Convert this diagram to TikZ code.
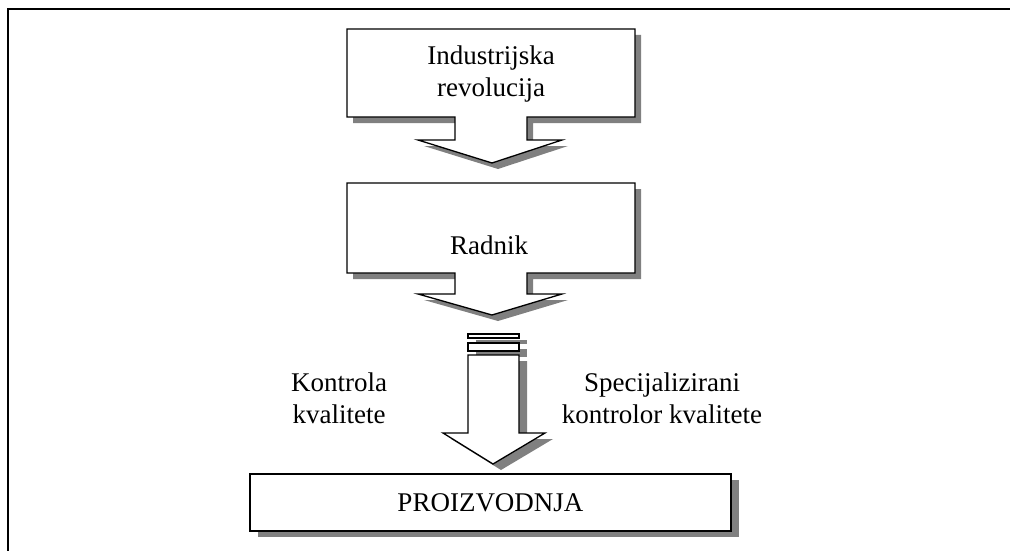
\documentclass[tikz,border=0pt]{standalone}
\usepackage{fontspec}
\setmainfont{Liberation Serif}
\usepackage{tikz}
\definecolor{shadowgray}{gray}{0.5}
\tikzstyle{callout}=[draw=black,line width=1.3pt,fill=white,line join=miter,preaction={fill=shadowgray,transform canvas={shift={(6,6)}}}]
\tikzstyle{bigshadow}=[draw=black,line width=1.3pt,fill=white,preaction={fill=shadowgray,transform canvas={shift={(8,6)}}}]
\tikzstyle{lbl}=[align=center,inner sep=0pt,font=\fontsize{27}{32}\selectfont]

\begin{document}
\begin{tikzpicture}[x=1pt,y=-1pt]
				\useasboundingbox (0,0) rectangle (1010,551);
				
				% frame
				\draw[line width=2pt] (8,551) -- (8,9) -- (1010,9);
				
				\begin{scope}
				% first callout
				\draw[callout] (347,29) -- (635,29) -- (635,117) -- (527,117) -- (527,140) -- (562,140) -- (492,163) -- (418,140) -- (455,140) -- (455,117) -- (347,117) -- cycle;
				\node [lbl] (rev) at (491,74) {Industrijska\\revolucija};
				
				% second callout
				\draw[callout] (347,183) -- (635,183) -- (635,273) -- (527,273) -- (527,294) -- (562,294) -- (492,315) -- (418,294) -- (455,294) -- (455,273) -- (347,273) -- cycle;
				\node [lbl] (rad) at (489,245) {Radnik};
				\end{scope}
				
				\begin{scope}
				% striped arrow
				\draw[bigshadow] (468,334) rectangle (519,338);
				\draw[bigshadow] (468,343) rectangle (519,351);
				\draw[bigshadow] (468,355) -- (519,355) -- (519,433) -- (545,433) -- (493,464) -- (443,433) -- (468,433) -- cycle;
				
				\node [lbl] (kon) at (339,398) {Kontrola\\kvalitete};
				\node [lbl] (spec) at (662,398) {Specijalizirani\\kontrolor kvalitete};
				
				% production box
				\draw[bigshadow,line width=1.8pt] (250,474) rectangle (731,531);
				\node [lbl] (pro) at (490.5,502.5) {PROIZVODNJA};
				\end{scope}
				
				\end{tikzpicture}
\end{document}
